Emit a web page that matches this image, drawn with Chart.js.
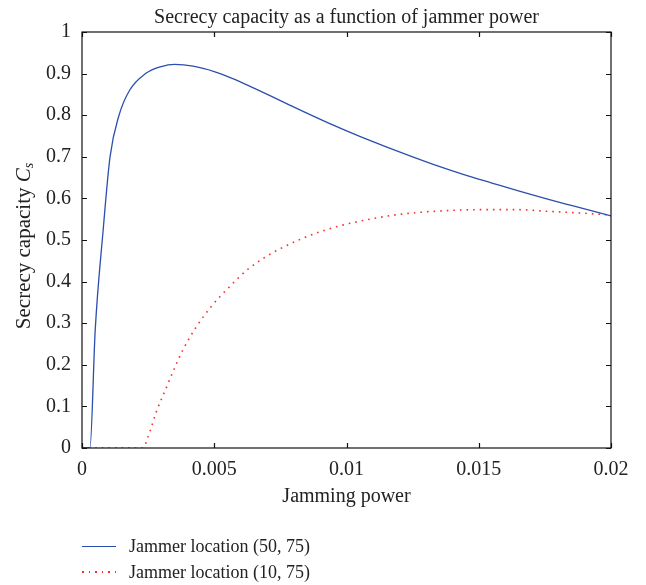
<!DOCTYPE html>
<html>
<head>
<meta charset="utf-8">
<script src="https://cdn.jsdelivr.net/npm/chart.js@4.4.0/dist/chart.umd.min.js"></script>
<style>
    html, body { margin: 0; padding: 0; background: #fff; }
    #wrap { position: relative; width: 646px; height: 585px; }
    .legend-row { position: absolute; left: 82px; height: 22px; display: flex; align-items: center;
        font-family: "Liberation Serif", serif; font-size: 18px; color: #222; }
    .sample { width: 34px; margin-right: 13px; }
    .sample.solid { border-top: 1.3px solid #2c4fae; }
    .sample.dotted { height: 1.6px; background: repeating-linear-gradient(to right, #ff2a2a 0 1.6px, transparent 1.6px 6.6px); }
</style>
</head>
<body>
<div id="wrap">
    <canvas id="chart" width="646" height="585"></canvas>
    <div class="legend-row" style="top:535px"><div class="sample solid"></div><span id="lg0"></span></div>
    <div class="legend-row" style="top:561px"><div class="sample dotted"></div><span id="lg1"></span></div>
</div>
<script>
// Data
const seriesNames = ['Jammer location (50, 75)', 'Jammer location (10, 75)'];

const blueX = [0, 0.0003, 0.0005, 0.0008, 0.00106, 0.0014, 0.0018, 0.0024, 0.0030, 0.0035, 0.0042, 0.005,
    0.0057, 0.0065, 0.0075, 0.0085, 0.0095, 0.0105, 0.0115, 0.0125, 0.0135, 0.0145, 0.0155, 0.0165,
    0.0175, 0.0185, 0.02];
const blueY = [0, 0, 0.284, 0.524, 0.70, 0.80, 0.86, 0.90, 0.917, 0.922, 0.918, 0.905,
    0.888, 0.865, 0.835, 0.805, 0.776, 0.749, 0.724, 0.700, 0.677, 0.656, 0.637, 0.618,
    0.600, 0.583, 0.558];

const redX = [0, 0.0023, 0.0025, 0.0028, 0.0032, 0.0035, 0.0038, 0.0043, 0.0049, 0.0056, 0.0063, 0.0074,
    0.0092, 0.0114, 0.0127, 0.0139, 0.0152, 0.0164, 0.0176, 0.0188, 0.02];
const redY = [0, 0, 0.027, 0.085, 0.147, 0.192, 0.234, 0.289, 0.341, 0.389, 0.431, 0.476,
    0.524, 0.556, 0.566, 0.571, 0.573, 0.573, 0.569, 0.565, 0.560];

const xTickValues = [0, 0.005, 0.01, 0.015, 0.02];
const xTickLabels = ['0', '0.005', '0.01', '0.015', '0.02'];
const yTickValues = [0, 0.1, 0.2, 0.3, 0.4, 0.5, 0.6, 0.7, 0.8, 0.9, 1];
const yTickLabels = ['0', '0.1', '0.2', '0.3', '0.4', '0.5', '0.6', '0.7', '0.8', '0.9', '1'];

const FONT = '"Liberation Serif", serif';
const TEXT = '#222';

function toPoints(xs, ys) {
    return xs.map((x, i) => ({ x: x, y: ys[i] }));
}

// box frame + inward ticks + y title with italic C_s
const framePlugin = {
    id: 'frame',
    afterDraw(chart) {
        const { ctx, chartArea: a } = chart;
        const xs = chart.scales.x, ys = chart.scales.y;
        const len = 5;
        ctx.save();
        ctx.strokeStyle = '#111';
        ctx.lineWidth = 1.2;
        ctx.strokeRect(a.left, a.top, a.right - a.left, a.bottom - a.top);
        ctx.beginPath();
        xs.ticks.forEach((t, i) => {
            const px = Math.round(xs.getPixelForTick(i)) + 0.5;
            ctx.moveTo(px, a.bottom); ctx.lineTo(px, a.bottom - len);
            ctx.moveTo(px, a.top); ctx.lineTo(px, a.top + len);
        });
        ys.ticks.forEach((t, i) => {
            const py = Math.round(ys.getPixelForTick(i)) + 0.5;
            ctx.moveTo(a.left, py); ctx.lineTo(a.left + len, py);
            ctx.moveTo(a.right, py); ctx.lineTo(a.right - len, py);
        });
        ctx.stroke();

        // y axis title
        ctx.translate(24, 246);
        ctx.rotate(-Math.PI / 2);
        ctx.fillStyle = TEXT;
        ctx.textBaseline = 'middle';
        const main = 'Secrecy capacity ';
        ctx.font = '21px ' + FONT;
        const w1 = ctx.measureText(main).width;
        ctx.font = 'italic 21px ' + FONT;
        const w2 = ctx.measureText('C').width;
        ctx.font = 'italic 14px ' + FONT;
        const w3 = ctx.measureText('s').width;
        let x0 = -(w1 + w2 + w3) / 2;
        ctx.textAlign = 'left';
        ctx.font = '21px ' + FONT;
        ctx.fillText(main, x0, 0);
        ctx.font = 'italic 21px ' + FONT;
        ctx.fillText('C', x0 + w1, 0);
        ctx.font = 'italic 14px ' + FONT;
        ctx.fillText('s', x0 + w1 + w2, 5);
        ctx.restore();
    }
};

document.getElementById('lg0').textContent = seriesNames[0];
document.getElementById('lg1').textContent = seriesNames[1];

new Chart(document.getElementById('chart'), {
    type: 'scatter',
    data: {
        datasets: [{
            label: seriesNames[0],
            data: toPoints(blueX, blueY),
            showLine: true,
            borderColor: '#2c4fae',
            borderWidth: 1.3,
            pointRadius: 0,
            cubicInterpolationMode: 'monotone'
        }, {
            label: seriesNames[1],
            data: toPoints(redX, redY),
            showLine: true,
            borderColor: '#ff2a2a',
            borderWidth: 1.6,
            borderDash: [1.6, 5],
            pointRadius: 0,
            cubicInterpolationMode: 'monotone'
        }]
    },
    options: {
        responsive: false,
        animation: false,
        layout: { padding: { left: 0, right: 35, top: 0, bottom: 0 } },
        plugins: {
            legend: { display: false },
            tooltip: { enabled: false },
            title: {
                display: true,
                fullSize: false,
                text: 'Secrecy capacity as a function of jammer power',
                font: { family: FONT, size: 20, weight: 'normal' },
                color: TEXT,
                padding: { top: 6, bottom: 2 }
            }
        },
        scales: {
            x: {
                type: 'linear',
                min: 0,
                max: 0.02,
                afterBuildTicks: s => { s.ticks = xTickValues.map(v => ({ value: v })); },
                afterFit: s => { s.height = 137; },
                grid: { display: false, drawTicks: false },
                border: { display: false },
                ticks: {
                    padding: 10,
                    maxRotation: 0,
                    color: TEXT,
                    font: { family: FONT, size: 20 },
                    callback: (v, i) => xTickLabels[i]
                },
                title: {
                    display: true,
                    text: 'Jamming power',
                    color: TEXT,
                    font: { family: FONT, size: 20 },
                    padding: { top: 0, bottom: 76 }
                }
            },
            y: {
                type: 'linear',
                min: 0,
                max: 1,
                afterBuildTicks: s => { s.ticks = yTickValues.map(v => ({ value: v })); },
                afterFit: s => { s.width = 82; },
                grid: { display: false, drawTicks: false },
                border: { display: false },
                ticks: {
                    padding: 11,
                    color: TEXT,
                    font: { family: FONT, size: 20 },
                    callback: (v, i) => yTickLabels[i]
                }
            }
        }
    },
    plugins: [framePlugin]
});
</script>
</body>
</html>
